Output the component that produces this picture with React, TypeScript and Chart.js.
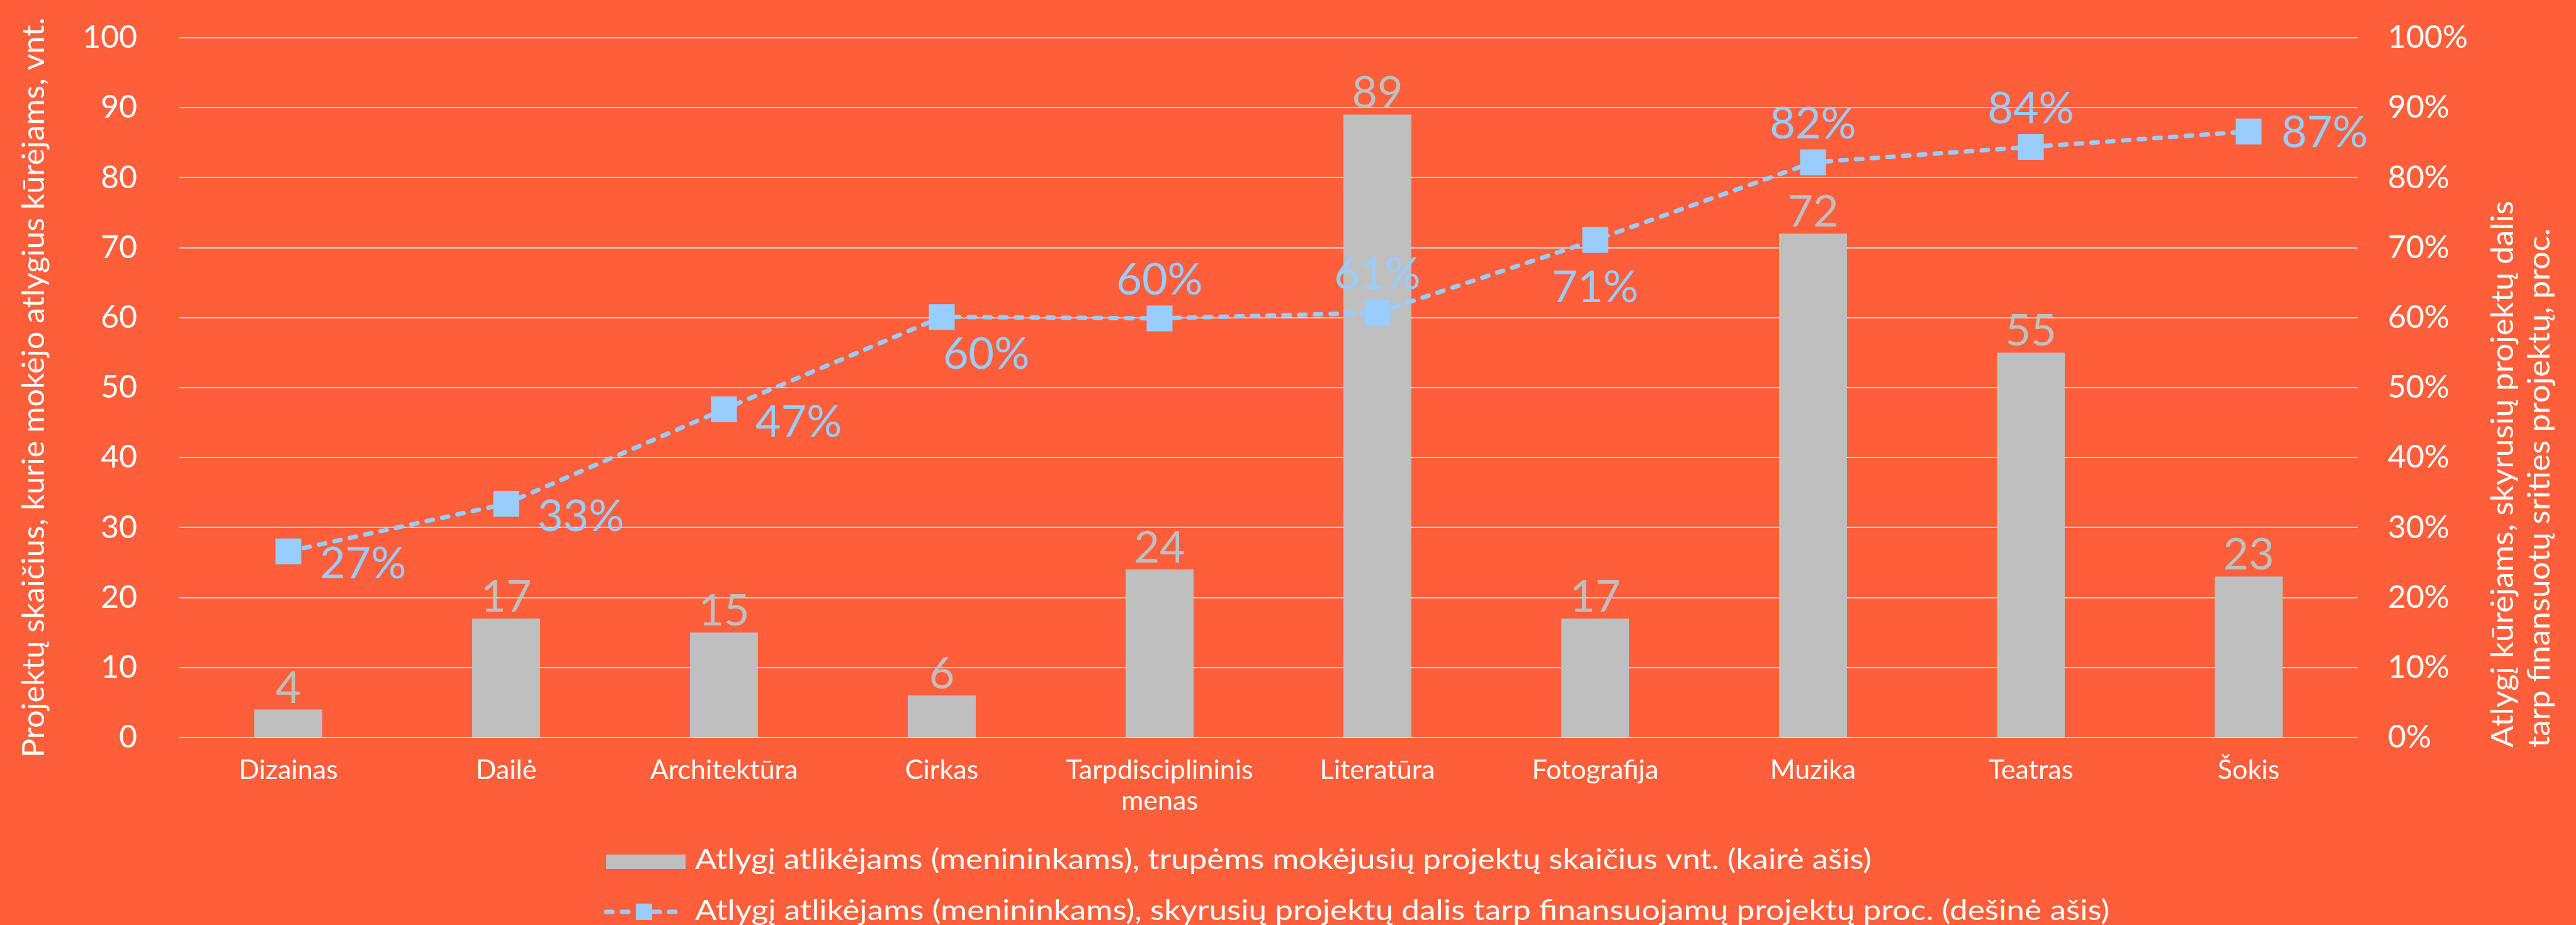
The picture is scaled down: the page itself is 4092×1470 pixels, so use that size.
import React, { useEffect, useRef } from 'react';
import { Chart, registerables } from 'chart.js';

Chart.register(...registerables);

// ---------- data ----------
const categories: (string | string[])[] = [
  'Dizainas',
  'Dailė',
  'Architektūra',
  'Cirkas',
  ['Tarpdisciplininis', 'menas'],
  'Literatūra',
  'Fotografija',
  'Muzika',
  'Teatras',
  'Šokis',
];
const projectCounts = [4, 17, 15, 6, 24, 89, 17, 72, 55, 23];
const sharePercent = [26.6, 33.4, 46.9, 60.1, 59.9, 60.7, 71.1, 82.2, 84.4, 86.6];
const shareLabelPlacement = [
  'rightLow', 'rightLow', 'rightLow', 'belowRight', 'above',
  'above', 'below', 'above', 'above', 'right',
];
const barSeriesName =
  'Atlygį atlikėjams (menininkams), trupėms mokėjusių projektų skaičius vnt. (kairė ašis)';
const lineSeriesName =
  'Atlygį atlikėjams (menininkams), skyrusių projektų dalis tarp finansuojamų projektų proc. (dešinė ašis)';
const leftAxisTitle = 'Projektų skaičius, kurie mokėjo atlygius kūrėjams, vnt.';
const rightAxisTitleLines = [
  'Atlygį kūrėjams, skyrusių projektų dalis',
  'tarp finansuotų srities projektų, proc.',
];

// ---------- styles ----------
const W = 4092;
const H = 1470;
const BG = '#FF5E3A';
const BAR_COLOR = '#BFBFBF';
const LINE_COLOR = '#99CCFF';
const GRID_COLOR = '#D9D9D9';
const FONT = 'Lato';

const placements: Record<string, { dx: number; dy: number; align: CanvasTextAlign }> = {
  right: { dx: 52, dy: 0, align: 'left' },
  rightLow: { dx: 50, dy: 18, align: 'left' },
  belowRight: { dx: 2, dy: 57, align: 'left' },
  above: { dx: 0, dy: -63, align: 'center' },
  below: { dx: 0, dy: 73, align: 'center' },
};

function fillTextFit(
  ctx: CanvasRenderingContext2D,
  text: string,
  x: number,
  y: number,
  width: number,
  align: CanvasTextAlign
) {
  const w = ctx.measureText(text).width;
  const s = width / w;
  ctx.save();
  ctx.translate(x, y);
  ctx.scale(s, 1);
  ctx.textAlign = align;
  ctx.fillText(text, 0, 0);
  ctx.restore();
}

const valueLabels = {
  id: 'valueLabels',
  afterDatasetsDraw(chart: any) {
    const ctx: CanvasRenderingContext2D = chart.ctx;
    ctx.save();
    const fs = 70;
    ctx.font = `${fs}px ${FONT}`;
    ctx.textBaseline = 'alphabetic';
    // bar labels
    const barMeta = chart.getDatasetMeta(1);
    ctx.fillStyle = BAR_COLOR;
    ctx.textAlign = 'center';
    barMeta.data.forEach((el: any, i: number) => {
      ctx.fillText(String(projectCounts[i]), el.x, el.y - 11);
    });
    // line labels
    const lineMeta = chart.getDatasetMeta(0);
    ctx.fillStyle = LINE_COLOR;
    lineMeta.data.forEach((el: any, i: number) => {
      const p = placements[shareLabelPlacement[i]];
      ctx.textAlign = p.align;
      ctx.fillText(`${Math.round(sharePercent[i])}%`, el.x + p.dx, el.y + p.dy + 0.36 * fs);
    });
    ctx.restore();
  },
};

const titlesAndLegend = {
  id: 'titlesAndLegend',
  afterDraw(chart: any) {
    const ctx: CanvasRenderingContext2D = chart.ctx;
    ctx.save();
    ctx.fillStyle = '#FFFFFF';
    ctx.textBaseline = 'alphabetic';
    // left axis title
    ctx.font = `48px ${FONT}`;
    ctx.save();
    ctx.translate(70, 1204);
    ctx.rotate(-Math.PI / 2);
    fillTextFit(ctx, leftAxisTitle, 0, 0, 1176, 'left');
    ctx.restore();
    // right axis title (two lines)
    const rightBaselines = [3992, 4050];
    const rightWidths = [869, 825];
    rightAxisTitleLines.forEach((line, i) => {
      ctx.save();
      ctx.translate(rightBaselines[i], 1188);
      ctx.rotate(-Math.PI / 2);
      fillTextFit(ctx, line, 0, 0, rightWidths[i], 'left');
      ctx.restore();
    });

    // legend
    const barDs = chart.data.datasets[1];
    const lineDs = chart.data.datasets[0];
    ctx.font = `44px ${FONT}`;
    // row 1: bar
    ctx.fillStyle = barDs.backgroundColor;
    ctx.fillRect(963, 1358, 126, 23);
    ctx.fillStyle = '#FFFFFF';
    fillTextFit(ctx, barDs.label, 1104, 1381, 1869, 'left');
    // row 2: line
    const ly = 1449;
    ctx.save();
    ctx.strokeStyle = lineDs.borderColor;
    ctx.lineWidth = lineDs.borderWidth;
    ctx.lineCap = 'round';
    ctx.setLineDash(lineDs.borderDash);
    ctx.beginPath();
    ctx.moveTo(963, ly);
    ctx.lineTo(1074, ly);
    ctx.stroke();
    ctx.restore();
    ctx.fillStyle = lineDs.pointBackgroundColor;
    ctx.fillRect(1010, ly - 13, 26, 26);
    ctx.fillStyle = '#FFFFFF';
    fillTextFit(ctx, lineDs.label, 1104, 1462, 2247, 'left');
    ctx.restore();
  },
};

export default function App() {
  const canvasRef = useRef<HTMLCanvasElement>(null);

  useEffect(() => {
    document.body.style.margin = '0';
    document.body.style.overflow = 'hidden';
    Chart.defaults.font.family = FONT;

    const chart = new Chart(canvasRef.current as HTMLCanvasElement, {
      type: 'bar',
      data: {
        labels: categories as any,
        datasets: [
          {
            type: 'line',
            label: lineSeriesName,
            data: sharePercent,
            yAxisID: 'y1',
            borderColor: LINE_COLOR,
            borderWidth: 7,
            borderDash: [10, 15],
            borderCapStyle: 'round',
            tension: 0,
            pointStyle: 'rect',
            pointRadius: 29,
            pointHoverRadius: 29,
            pointBackgroundColor: LINE_COLOR,
            pointBorderWidth: 0,
            order: 0,
          } as any,
          {
            type: 'bar',
            label: barSeriesName,
            data: projectCounts,
            yAxisID: 'y',
            backgroundColor: BAR_COLOR,
            categoryPercentage: 1,
            barPercentage: 0.312,
            order: 1,
          } as any,
        ],
      },
      options: {
        responsive: false,
        animation: false,
        devicePixelRatio: 1,
        events: [],
        layout: { padding: { top: 60, bottom: 178, left: 0, right: 0 } },
        plugins: {
          legend: { display: false },
          tooltip: { enabled: false },
          title: { display: false },
        },
        scales: {
          x: {
            offset: true,
            grid: { display: false, drawTicks: false },
            border: { display: false },
            ticks: {
              color: '#FFFFFF',
              font: { family: FONT, size: 43, lineHeight: 1.14 },
              padding: 28,
              maxRotation: 0,
              autoSkip: false,
            },
            afterFit: (scale: any) => {
              scale.height = 120;
              scale.paddingLeft = 0;
              scale.paddingRight = 0;
            },
          },
          y: {
            position: 'left',
            min: 0,
            max: 100,
            grid: { color: GRID_COLOR, lineWidth: 2, drawTicks: false },
            border: { display: false },
            ticks: {
              stepSize: 10,
              color: '#FFFFFF',
              font: { family: FONT, size: 50 },
              padding: 67,
            },
            afterFit: (scale: any) => {
              scale.width = 285;
              scale.paddingTop = 0;
              scale.paddingBottom = 0;
            },
          },
          y1: {
            position: 'right',
            min: 0,
            max: 100,
            grid: { display: false, drawTicks: false },
            border: { display: false },
            ticks: {
              stepSize: 10,
              color: '#FFFFFF',
              font: { family: FONT, size: 50 },
              padding: 48,
              callback: (v: any) => `${v}%`,
            },
            afterFit: (scale: any) => {
              scale.width = W - 3745;
              scale.paddingTop = 0;
              scale.paddingBottom = 0;
            },
          },
        },
      } as any,
      plugins: [valueLabels, titlesAndLegend],
    });

    return () => chart.destroy();
  }, []);

  return (
    <div style={{ width: W, height: H, background: BG, overflow: 'hidden' }}>
      <canvas ref={canvasRef} width={W} height={H} style={{ display: 'block' }} />
    </div>
  );
}
